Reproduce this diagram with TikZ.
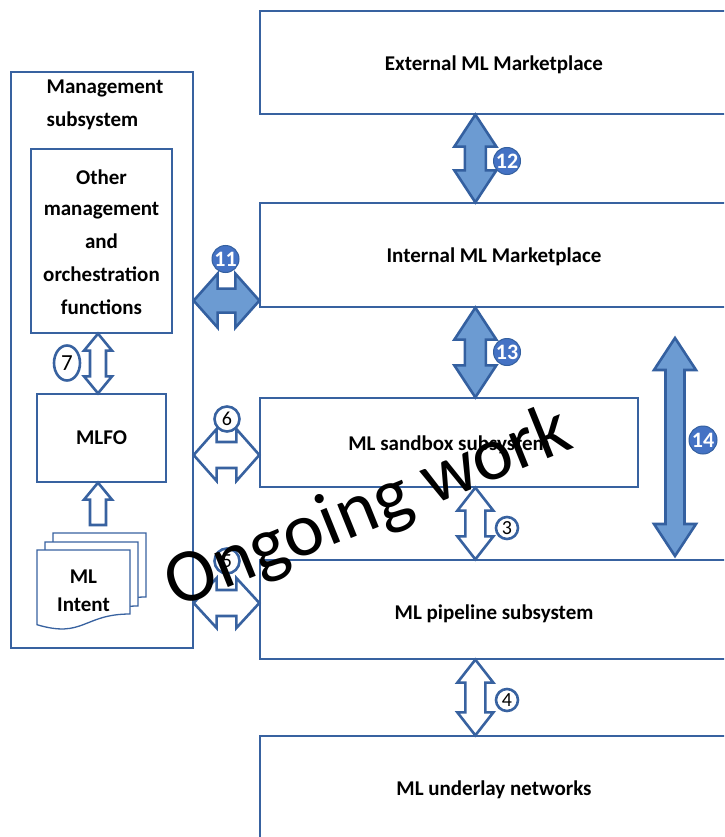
\documentclass[tikz,border=0pt]{standalone}
\usepackage{fontspec}
\setmainfont{Carlito}
\usetikzlibrary{calc,shapes.geometric}
\definecolor{boxblue}{RGB}{56,98,160}
\definecolor{arrowfill}{RGB}{108,155,210}
\definecolor{arrowline}{RGB}{52,96,160}
\definecolor{badgefill}{RGB}{68,114,196}

% vertical double block arrow: style, top tip, bottom tip, head half width, shaft half width, head length
\newcommand\vdblarrow[6]{%
 \draw[#1] (#2) -- ++(#4,#6) -- ++({#5-#4},0) -- ($(#3)+(#5,-#6)$) -- ++({#4-#5},0) -- (#3)
   -- ++(-#4,-#6) -- ++({#4-#5},0) -- ($(#2)+(-#5,#6)$) -- ++({#5-#4},0) -- cycle;}
% horizontal double block arrow: style, left tip, right tip, head half height, shaft half height, head length
\newcommand\hdblarrow[6]{%
 \draw[#1] (#2) -- ++(#6,-#4) -- ++(0,{#4-#5}) -- ($(#3)+(-#6,-#5)$) -- ++(0,{#5-#4}) -- (#3)
   -- ++(-#6,#4) -- ++(0,{#5-#4}) -- ($(#2)+(#6,#5)$) -- ++(0,{#4-#5}) -- cycle;}
% single up block arrow: style, tip, base centre, head half width, shaft half width, head length
\newcommand\upblockarrow[6]{%
 \draw[#1] (#2) -- ++(#4,#6) -- ++({#5-#4},0) -- ($(#3)+(#5,0)$) -- ($(#3)+(-#5,0)$)
   -- ($(#2)+(-#5,#6)$) -- ++({#5-#4},0) -- cycle;}
% document shape with wavy bottom
\newcommand\docshape[1]{%
 \begin{scope}[shift={(#1)}]
 \draw[docstyle] (0,0) -- (93,0) -- (93,64) .. controls (46.5,64) and (46.5,88.6) .. (0,74.7) -- cycle;
 \end{scope}}
% text drawn slightly lower inside its node
\newcommand\lowertext[2]{\raisebox{-#1}[\height][\depth]{#2}}

\tikzset{
 box/.style={draw=boxblue, line width=1.3pt, fill=white, inner sep=0pt,
   font=\bfseries\fontsize{21}{33}\selectfont, align=center},
 hollowarrow/.style={draw=boxblue, line width=2.6pt, fill=white, line join=miter},
 filledarrow/.style={draw=arrowline, line width=2.6pt, fill=arrowfill, line join=miter},
 badge/.style={circle, draw=boxblue, line width=2.6pt, fill=white, inner sep=0pt,
   minimum size=#1, font=\fontsize{20}{20}\selectfont},
 fbadge/.style={circle, draw=arrowline, line width=1pt, fill=badgefill, text=white, inner sep=0pt,
   minimum size=#1, font=\bfseries\fontsize{22}{22}\selectfont},
 docstyle/.style={draw=boxblue, line width=1.3pt, fill=white},
 labeltext/.style={font=\bfseries\fontsize{21}{33}\selectfont},
}

\begin{document}
\begin{tikzpicture}[x=1pt,y=-1pt]
\useasboundingbox (0,0) rectangle (724,837);
\fill[white] (0,0) rectangle (724,837);
\clip (0,0) rectangle (724,837);

% main boxes
\node[box, minimum width=468pt, minimum height=103pt] (ext) at (494,62.5) {\lowertext{2pt}{External ML Marketplace}};
\node[box, minimum width=468pt, minimum height=104pt] (int) at (494,255) {\lowertext{2pt}{Internal ML Marketplace}};
\node[box, minimum width=378pt, minimum height=89pt] (sbx) at (449,442.5) {\lowertext{2pt}{ML sandbox subsystem}};
\node[box, minimum width=468pt, minimum height=99pt] (pipe) at (494,609.5) {\lowertext{4pt}{ML pipeline subsystem}};
\node[box, minimum width=468pt, minimum height=104pt] (und) at (494,788) {\lowertext{2pt}{ML underlay networks}};

% management subsystem
\node[box, minimum width=182pt, minimum height=576pt] (mgmt) at (102,360) {};
\node[labeltext, align=left, inner sep=0pt] (mgmttitle) at (105,105) {Management\\subsystem};
\node[box, minimum width=141pt, minimum height=184pt] (other) at (101.5,241)
  {\lowertext{2pt}{Other}\\management\\and\\orchestration\\functions};
\node[box, minimum width=129pt, minimum height=88pt] (mlfo) at (101.5,438) {MLFO};

% ML intent documents
\coordinate (docback) at (53,533);
\coordinate (docmid) at (45,542);
\coordinate (docfront) at (37,550);
\docshape{docback}
\docshape{docmid}
\docshape{docfront}
\node[labeltext, align=center, inner sep=0pt, font=\bfseries\fontsize{21}{28}\selectfont] (intent) at (83.5,591) {ML\\Intent};

% connector coordinates
\coordinate (a12t) at ($(ext.south west)+(216,0)$);
\coordinate (a12b) at ($(int.north west)+(216,0)$);
\coordinate (a13t) at ($(int.south west)+(216,0)$);
\coordinate (a13b) at ($(sbx.north west)+(216,0)$);
\coordinate (a3t) at ($(sbx.south west)+(216,0)$);
\coordinate (a3b) at ($(pipe.north west)+(216,0)$);
\coordinate (a4t) at ($(pipe.south west)+(216,0)$);
\coordinate (a4b) at ($(und.north west)+(216,0)$);
\coordinate (a14t) at (675,338);
\coordinate (a14b) at (675,556);
\coordinate (a11r) at ($(int.south west)+(0,-7)$);
\coordinate (a11l) at (a11r -| mgmt.east);
\coordinate (a6r) at ($(sbx.west)+(0,12.5)$);
\coordinate (a6l) at (a6r -| mgmt.east);
\coordinate (a5r) at ($(pipe.west)+(0,-6.5)$);
\coordinate (a5l) at (a5r -| mgmt.east);
\coordinate (a7t) at ($(other.south)+(-3.5,0)$);
\coordinate (a7b) at ($(mlfo.north)+(-3.5,0)$);
\coordinate (aut) at ($(mlfo.south)+(-3.5,0)$);
\coordinate (aub) at (98,525);

% block arrows
\vdblarrow{filledarrow}{a12t}{a12b}{21}{10.5}{32}
\vdblarrow{filledarrow}{a13t}{a13b}{21}{10.5}{32}
\vdblarrow{filledarrow}{a14t}{a14b}{21}{9.5}{32}
\hdblarrow{filledarrow}{a11l}{a11r}{27}{12}{24}
\vdblarrow{hollowarrow}{a3t}{a3b}{18}{10}{23}
\vdblarrow{hollowarrow}{a4t}{a4b}{18}{10}{23}
\hdblarrow{hollowarrow}{a6l}{a6r}{26}{13}{23}
\hdblarrow{hollowarrow}{a5l}{a5r}{25}{13}{23}
\vdblarrow{hollowarrow}{a7t}{a7b}{14}{8}{17}
\upblockarrow{hollowarrow}{aut}{aub}{14}{8}{17}

% badges
\node[fbadge=27pt] (b11) at (225.5,259) {11};
\node[fbadge=27pt] (b12) at (507,161) {12};
\node[fbadge=27pt] (b13) at (507,352) {13};
\node[fbadge=28pt] (b14) at (703,440) {14};
\node[badge=25pt] (b6) at (227,419) {6};
\node[badge=25pt] (b5) at (227,561) {5};
\node[badge=22pt] (b3) at (507,528) {3};
\node[badge=22pt] (b4) at (507,700) {4};
\node[badge=25pt, ellipse, minimum width=26pt, minimum height=35pt, font=\fontsize{23}{23}\selectfont] (b7) at (67,363) {7};

% watermark
\node[rotate=22, anchor=base, inner sep=0pt, font=\fontsize{76}{76}\selectfont] (wm) at (376,528) {Ongoing work};
\end{tikzpicture}
\end{document}
